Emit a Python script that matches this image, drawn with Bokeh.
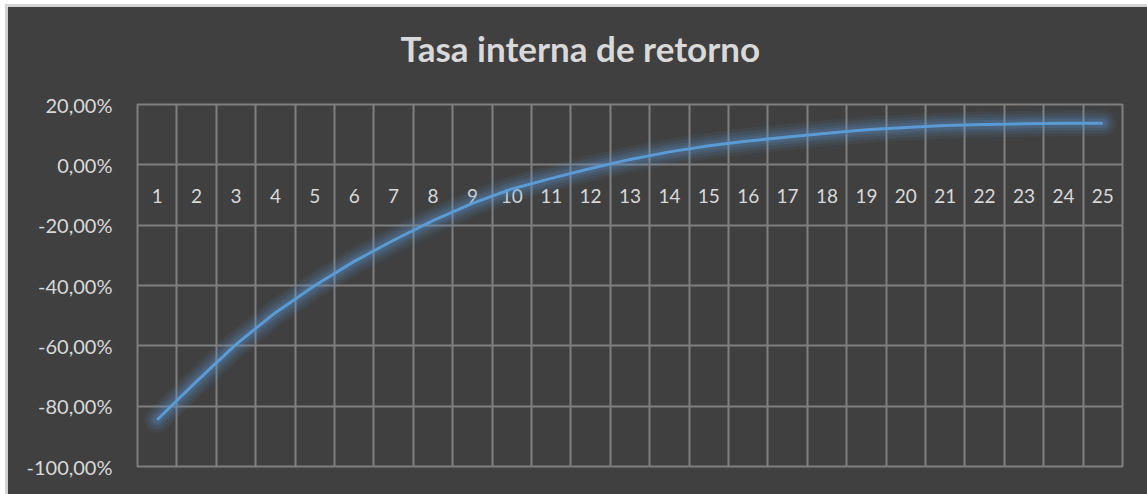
from bokeh.plotting import figure
from bokeh.models import Range1d, FixedTicker, CustomJSTickFormatter, Title, ColumnDataSource
from bokeh.core.properties import value
from bokeh.embed import file_html
from bokeh.resources import INLINE

# Internal rate of return (in %) for each year of the horizon
years = list(range(1, 26))
year_labels = [str(y) for y in years]
irr_pct = [-84.5, -71.8, -59.5, -49.0, -40.0, -32.0, -25.0, -18.5, -12.8, -8.0,
           -4.5, -1.2, 1.8, 4.3, 6.3, 7.9, 9.2, 10.5, 11.6, 12.4,
           13.0, 13.4, 13.6, 13.8, 13.8]
y_ticks = [-100, -80, -60, -40, -20, 0, 20]
chart_title = "Tasa interna de retorno"

BG = "#404040"
GRID = "#7f7f7f"
TXT = "#d9d9d9"
LINE = "#5b9bd5"
FONT = "Lato"

p = figure(frame_width=985, frame_height=362,
           min_border_left=130, min_border_right=25,
           min_border_top=98, min_border_bottom=28,
           x_range=Range1d(0.5, 25.5), y_range=Range1d(-100, 20),
           output_backend="svg", toolbar_location=None,
           background_fill_color=BG, border_fill_color=BG)
p.margin = (4, 0, 0, 5)
p.styles = {"border-top": "2px solid #d4d4d4", "border-left": "2px solid #d4d4d4"}

p.outline_line_color = GRID
p.outline_line_width = 2

# category boundaries as vertical grid, value ticks as horizontal grid
p.xaxis.visible = False
p.xgrid.ticker = FixedTicker(ticks=[i + 0.5 for i in range(0, 26)])
p.xgrid.grid_line_color = GRID
p.xgrid.grid_line_width = 2

p.yaxis.ticker = FixedTicker(ticks=y_ticks)
p.yaxis.formatter = CustomJSTickFormatter(
    code="return tick.toFixed(2).replace('.', ',') + '%';")
p.yaxis.axis_line_color = None
p.yaxis.major_tick_line_color = None
p.yaxis.minor_tick_line_color = None
p.yaxis.major_tick_out = 0
p.yaxis.major_tick_in = 0
p.yaxis.major_label_standoff = 25
p.yaxis.major_label_text_color = TXT
p.yaxis.major_label_text_font = FONT
p.yaxis.major_label_text_font_size = "20px"
p.ygrid.grid_line_color = GRID
p.ygrid.grid_line_width = 2

# year labels sitting just under the zero line
lab_src = ColumnDataSource(dict(x=years, y=[-10.4] * len(years), t=year_labels))
p.text(x="x", y="y", text="t", source=lab_src,
       text_align="center", text_baseline="middle",
       text_color=TXT, text_font=value(FONT), text_font_size="19px")

# soft glow under the series line
for w, a in [(26, 0.08), (20, 0.10), (14, 0.13), (9, 0.16)]:
    p.line(years, irr_pct, line_color=LINE, line_width=w, line_alpha=a,
           line_cap="round", line_join="round")
p.line(years, irr_pct, line_color=LINE, line_width=3, line_join="round")

# spacer panel that lifts the title away from the frame
p.add_layout(Title(text=" ", standoff=33, text_font_size="1px"), "above")
# chart title
p.add_layout(Title(text=chart_title, align="left", offset=263, standoff=0,
                   text_color=TXT, text_font=FONT, text_font_style="bold",
                   text_font_size="35px"), "above")

open("out.html", "w").write(file_html(p, INLINE))
